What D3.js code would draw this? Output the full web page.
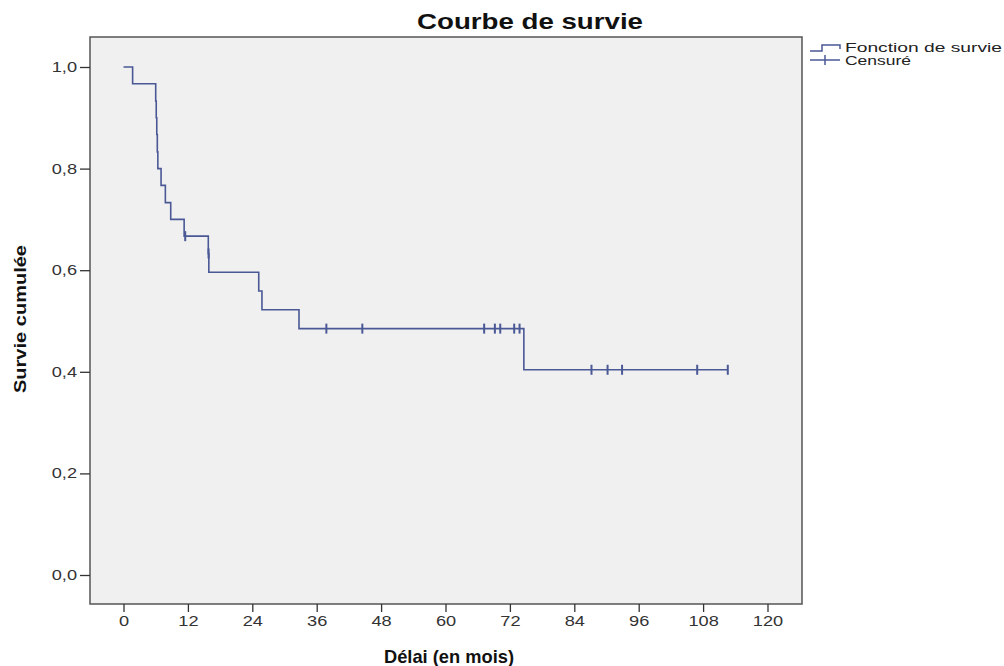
<!DOCTYPE html>
<html>
<head>
<meta charset="utf-8">
<script src="https://cdn.jsdelivr.net/npm/d3@7"></script>
<style>
  body { margin: 0; background: #fff; }
  text { font-family: "Liberation Sans", Arial, sans-serif; }
</style>
</head>
<body>
<div id="chart"></div>
<script>
// step function: time of each step (months) and survival after it
const stepTimes = [0, 1.7, 6.0, 6.1, 6.2, 6.3, 6.4, 7.0, 7.8, 8.8, 11.3, 15.8, 15.9, 25.2, 25.8, 32.7, 74.6];
const stepSurv  = [1.0, 0.967, 0.933, 0.9, 0.867, 0.833, 0.8, 0.767, 0.733, 0.7, 0.667, 0.633, 0.596, 0.559, 0.522, 0.485, 0.404];
// censored observations
const censorTimes = [11.5, 15.85, 37.8, 44.5, 67.2, 69.2, 70.2, 72.8, 73.8, 87.2, 90.2, 92.9, 106.9, 112.6];
const endTime = 112.6;

const xTicks = [0, 12, 24, 36, 48, 60, 72, 84, 96, 108, 120];
const yTicks = [0, 0.2, 0.4, 0.6, 0.8, 1.0];

const width = 1004, height = 666;
const frame = { left: 90, top: 37, right: 802, bottom: 604 };
const lineColor = '#4a5896';

const svg = d3.select('#chart').append('svg')
  .attr('width', width)
  .attr('height', height);

const x = d3.scaleLinear().domain([0, 120]).range([123.5, 767.5]);
const y = d3.scaleLinear().domain([0, 1]).range([575, 67]);

// the source picture is stretched sideways, so widen the text a bit
function stretch(sel, k) {
  sel.each(function() {
    const w = this.getComputedTextLength();
    d3.select(this).attr('textLength', w * k).attr('lengthAdjust', 'spacingAndGlyphs');
  });
}

// plot background
svg.append('rect')
  .attr('x', frame.left).attr('y', frame.top)
  .attr('width', frame.right - frame.left)
  .attr('height', frame.bottom - frame.top)
  .attr('fill', '#f0f0f0')
  .attr('stroke', '#555')
  .attr('stroke-width', 1.5);

// axes
const fmt = d => d3.format('.1f')(d).replace('.', ',');

const xAxis = svg.append('g')
  .attr('transform', `translate(0,${frame.bottom})`)
  .call(d3.axisBottom(x).tickValues(xTicks).tickSize(8).tickPadding(4).tickFormat(d3.format('d')));
const yAxis = svg.append('g')
  .attr('transform', `translate(${frame.left},0)`)
  .call(d3.axisLeft(y).tickValues(yTicks).tickSize(10).tickPadding(3).tickFormat(fmt));

[xAxis, yAxis].forEach(a => {
  a.select('.domain').remove();
  a.selectAll('line').attr('stroke', '#333').attr('stroke-width', 1.3);
  a.selectAll('text').attr('fill', '#333').attr('font-size', '14px')
    .attr('font-family', '"Liberation Sans", Arial, sans-serif')
    .call(stretch, 1.3);
});

// step line
const pts = [];
stepTimes.forEach((t, i) => pts.push([t, stepSurv[i]]));
pts.push([endTime, stepSurv[stepSurv.length - 1]]);

const line = d3.line()
  .x(d => x(d[0]))
  .y(d => y(d[1]))
  .curve(d3.curveStepAfter);

svg.append('path')
  .datum(pts)
  .attr('fill', 'none')
  .attr('stroke', lineColor)
  .attr('stroke-width', 1.6)
  .attr('d', line);

// censor marks
const survAt = t => {
  let s = stepSurv[0];
  stepTimes.forEach((st, i) => { if (st <= t) s = stepSurv[i]; });
  return s;
};

svg.append('g').selectAll('line')
  .data(censorTimes)
  .join('line')
  .attr('x1', d => x(d)).attr('x2', d => x(d))
  .attr('y1', d => y(survAt(d)) - 5)
  .attr('y2', d => y(survAt(d)) + 5)
  .attr('stroke', lineColor)
  .attr('stroke-width', 2);

// titles
svg.append('text')
  .attr('x', 530).attr('y', 29)
  .attr('text-anchor', 'middle')
  .attr('font-size', '22px')
  .attr('font-weight', 'bold')
  .attr('fill', '#111')
  .attr('textLength', 226)
  .attr('lengthAdjust', 'spacingAndGlyphs')
  .text('Courbe de survie');

svg.append('text')
  .attr('x', 449).attr('y', 663)
  .attr('text-anchor', 'middle')
  .attr('font-size', '19px')
  .attr('font-weight', 'bold')
  .attr('fill', '#111')
  .attr('textLength', 130)
  .attr('lengthAdjust', 'spacingAndGlyphs')
  .text('Délai (en mois)');

svg.append('text')
  .attr('transform', 'rotate(-90)')
  .attr('x', -319).attr('y', 26)
  .attr('text-anchor', 'middle')
  .attr('font-size', '17px')
  .attr('font-weight', 'bold')
  .attr('fill', '#111')
  .attr('textLength', 148)
  .attr('lengthAdjust', 'spacingAndGlyphs')
  .text('Survie cumulée');

// legend
const legend = svg.append('g');
legend.append('path')
  .attr('d', 'M810,51 H822 V45 H840 V49')
  .attr('fill', 'none')
  .attr('stroke', lineColor)
  .attr('stroke-width', 1.5);
legend.append('line')
  .attr('x1', 810).attr('x2', 840).attr('y1', 60).attr('y2', 60)
  .attr('stroke', lineColor).attr('stroke-width', 1.5);
legend.append('line')
  .attr('x1', 825).attr('x2', 825).attr('y1', 55).attr('y2', 65)
  .attr('stroke', lineColor).attr('stroke-width', 1.5);
legend.append('text')
  .attr('x', 845).attr('y', 52)
  .attr('font-size', '13px').attr('fill', '#222')
  .attr('textLength', 157)
  .attr('lengthAdjust', 'spacingAndGlyphs')
  .text('Fonction de survie');
legend.append('text')
  .attr('x', 845).attr('y', 65)
  .attr('font-size', '13px').attr('fill', '#222')
  .attr('textLength', 66)
  .attr('lengthAdjust', 'spacingAndGlyphs')
  .text('Censuré');
</script>
</body>
</html>
